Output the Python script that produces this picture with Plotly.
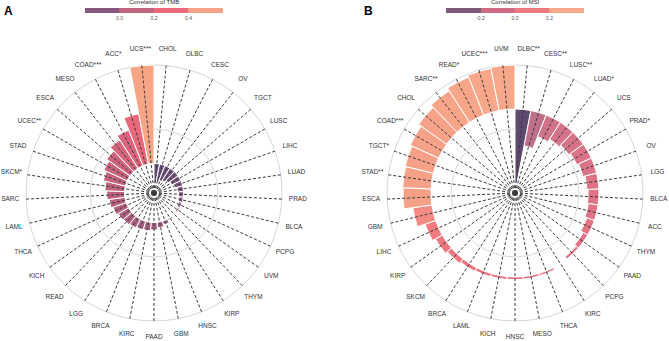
import plotly.graph_objects as go

# ---------------- data ----------------
tmb_types = ["CHOL", "DLBC", "CESC", "OV", "TGCT", "LUSC", "LIHC", "LUAD", "PRAD", "BLCA",
             "PCPG", "UVM", "THYM", "KIRP", "HNSC", "GBM", "PAAD", "KIRC", "BRCA", "LGG",
             "READ", "KICH", "THCA", "LAML", "SARC", "SKCM*", "STAD", "UCEC**", "ESCA",
             "MESO", "COAD***", "ACC*", "UCS***"]
tmb_cor = [-0.100, -0.090, -0.080, -0.070, -0.060, -0.050, -0.040, -0.030, -0.025, -0.020,
           -0.015, -0.008, -0.003, 0.007, 0.018, 0.028, 0.038, 0.043, 0.045, 0.050,
           0.055, 0.060, 0.070, 0.080, 0.090, 0.100, 0.115, 0.130, 0.145,
           0.170, 0.195, 0.260, 0.500]

msi_types = ["DLBC**", "CESC**", "LUSC**", "LUAD*", "UCS", "PRAD*", "OV", "LGG", "BLCA", "ACC",
             "THYM", "PAAD", "PCPG", "KIRC", "THCA", "MESO", "HNSC", "KICH", "LAML", "BRCA",
             "SKCM", "KIRP", "LIHC", "GBM", "ESCA", "STAD**", "TGCT*", "COAD***", "CHOL",
             "SARC**", "READ*", "UCEC***", "UVM"]
msi_cor = [-0.460, -0.225, -0.145, -0.125, -0.112, -0.100, -0.088, -0.075, -0.068, -0.062,
           -0.050, -0.032, -0.018, 0.000, 0.014, 0.016, 0.017, 0.018, 0.020, 0.025,
           0.035, 0.050, 0.070, 0.120, 0.175, 0.178, 0.182, 0.195, 0.215,
           0.235, 0.255, 0.268, 0.275]

tmb_lim = [-0.15, 0.50]     # centre .. outer circle
msi_lim = [-0.525, 0.275]

tmb_ticks = [0.0, 0.2, 0.4]
msi_ticks = [-0.2, 0.0, 0.2]

# colour stops (value, colour) for the bar fills
tmb_stops = [(-0.10, "#64507a"), (0.0, "#905c84"), (0.08, "#b9627f"), (0.17, "#d6647c"),
             (0.26, "#e9687b"), (0.50, "#f7a587")]
msi_stops = [(-0.46, "#5e4a6e"), (-0.22, "#c0718c"), (-0.07, "#e07487"), (0.0, "#ea6d7f"),
             (0.07, "#f07c80"), (0.12, "#f38a84"), (0.17, "#f6a088"), (0.275, "#f8a88a")]

tmb_bins = ["#85587c", "#c2637f", "#ea6a7b", "#f7a387"]
msi_bins = ["#7e597c", "#d06a83", "#ee7880", "#f8a88a"]

FONT = "Liberation Sans, Arial, sans-serif"
N = len(tmb_types)
step = 360.0 / N
thetas = [(i + 0.5) * step for i in range(N)]

R_CIRCLE = 128   # px radius of outer circle
R_LABEL = 144    # px radius of the label centres
R_DOMAIN = 146   # px radius of the polar area


def value_scale(stops):
    lo, hi = stops[0][0], stops[-1][0]
    return [[(v - lo) / (hi - lo), c] for v, c in stops]


def step_scale(colors):
    n = len(colors)
    out = []
    for i, c in enumerate(colors):
        out.append([i / n, c])
        out.append([(i + 1) / n, c])
    return out


def at_px(lim, px):
    return lim[0] + (lim[1] - lim[0]) * px / R_CIRCLE


fig = go.Figure()


def add_panel(types, vals, lim, stops, polar_name):
    fig.add_trace(go.Barpolar(
        r=vals, theta=thetas, base=[0] * len(vals), width=[step] * len(vals),
        marker=dict(color=vals, colorscale=value_scale(stops),
                    cmin=stops[0][0], cmax=stops[-1][0],
                    line=dict(color="white", width=1)),
        subplot=polar_name, showlegend=False, hoverinfo="skip"))
    for t in thetas:
        fig.add_trace(go.Scatterpolar(
            r=lim, theta=[t, t], mode="lines",
            line=dict(color="#3a3a3a", width=1, dash="3px,2px"),
            subplot=polar_name, showlegend=False, hoverinfo="skip"))
    fig.add_trace(go.Scatterpolar(
        r=[at_px(lim, R_LABEL)] * len(types), theta=thetas, mode="text", text=types,
        textposition="middle center", cliponaxis=False,
        textfont=dict(size=6.5, color="#333333", family=FONT),
        subplot=polar_name, showlegend=False, hoverinfo="skip"))


add_panel(tmb_types, tmb_cor, tmb_lim, tmb_stops, "polar")
add_panel(msi_types, msi_cor, msi_lim, msi_stops, "polar2")


def add_colorbar(colors, ticks, xc):
    lo = ticks[0] - (ticks[1] - ticks[0])
    hi = ticks[-1] + (ticks[1] - ticks[0])
    fig.add_trace(go.Scatter(
        x=[None], y=[None], mode="markers", showlegend=False, hoverinfo="skip",
        marker=dict(color=[lo], cmin=lo, cmax=hi, colorscale=step_scale(colors),
                    showscale=True,
                    colorbar=dict(orientation="h", x=xc, xanchor="center",
                                  y=1 - 8 / 341, yanchor="top", ypad=0, xpad=0,
                                  thickness=5, thicknessmode="pixels",
                                  len=138, lenmode="pixels", outlinewidth=0,
                                  tickvals=ticks, ticktext=["%.1f" % v for v in ticks],
                                  ticks="", tickfont=dict(size=5, color="#555555", family=FONT)))))


add_colorbar(tmb_bins, tmb_ticks, 154 / 669)
add_colorbar(msi_bins, msi_ticks, 515 / 669)


def polar_layout(lim, xc):
    return dict(
        domain=dict(x=[(xc - R_DOMAIN) / 669, (xc + R_DOMAIN) / 669],
                    y=[(148 - R_DOMAIN) / 341, (148 + R_DOMAIN) / 341]),
        bgcolor="rgba(0,0,0,0)",
        radialaxis=dict(range=[lim[0], at_px(lim, R_DOMAIN)], showticklabels=False,
                        ticks="", showline=False,
                        tickvals=[(lim[0] + lim[1]) / 2, lim[1]], showgrid=True,
                        gridcolor="#d6d6d6", gridwidth=1),
        angularaxis=dict(direction="clockwise", rotation=90, thetaunit="degrees",
                         tickmode="array", tickvals=thetas, ticks="", showticklabels=False,
                         showgrid=False, showline=False),
    )


def title_ann(text, xc):
    return dict(text=text, x=xc, y=1 - 2.5 / 341, xref="paper", yref="paper",
                xanchor="center", yanchor="middle", showarrow=False,
                font=dict(size=6, color="#333333", family=FONT))


fig.update_layout(
    width=669, height=341, margin=dict(l=0, r=0, t=0, b=0),
    paper_bgcolor="white", plot_bgcolor="white",
    font=dict(family=FONT),
    polar=polar_layout(tmb_lim, 154),
    polar2=polar_layout(msi_lim, 515),
    xaxis=dict(visible=False), yaxis=dict(visible=False),
    annotations=[
        dict(text="<b>A</b>", x=2 / 669, y=1 - 2 / 341, xref="paper", yref="paper",
             xanchor="left", yanchor="top", showarrow=False,
             font=dict(size=12, color="black", family=FONT)),
        dict(text="<b>B</b>", x=362 / 669, y=1 - 2 / 341, xref="paper", yref="paper",
             xanchor="left", yanchor="top", showarrow=False,
             font=dict(size=12, color="black", family=FONT)),
        title_ann("Correlation of TMB", 154 / 669),
        title_ann("Correlation of MSI", 515 / 669),
    ],
)

fig.write_html("out.html", config={"displayModeBar": False},
               post_script="document.body.style.margin='0';document.body.style.padding='0';")
